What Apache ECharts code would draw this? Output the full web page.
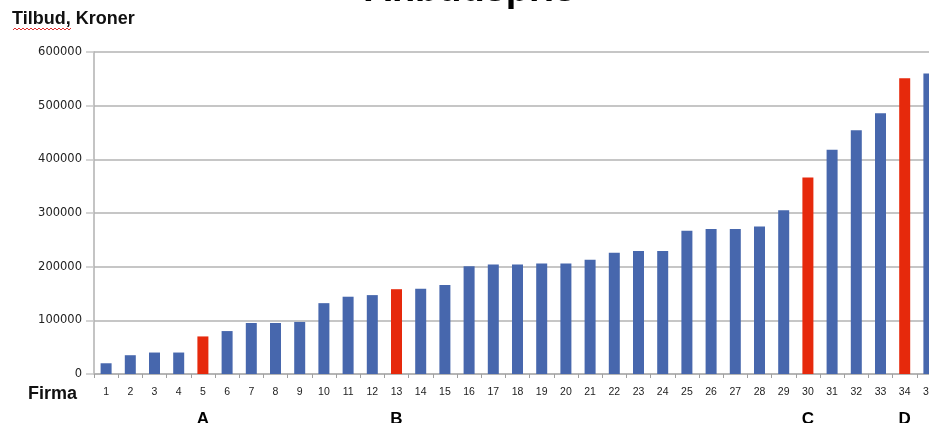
<!DOCTYPE html>
<html>
<head>
<meta charset="utf-8">
<script src="https://cdn.jsdelivr.net/npm/echarts@6/dist/echarts.min.js"></script>
<style>
  html, body { margin: 0; padding: 0; background: #fff; }
  #chart { width: 929px; height: 423px; }
</style>
</head>
<body>
<div id="chart"></div>
<script>
// Firms 1..35, sorted by bid
const firms = ['1','2','3','4','5','6','7','8','9','10','11','12','13','14','15','16','17','18',
  '19','20','21','22','23','24','25','26','27','28','29','30','31','32','33','34','35'];
// Bid per firm, kroner
const bids = [20000, 35000, 40000, 40000, 70000, 80000, 95000, 95000, 97000, 132000,
  144000, 147000, 158000, 159000, 166000, 201000, 204000, 204000, 206000, 206000,
  213000, 226000, 229000, 229000, 267000, 270000, 270000, 275000, 305000, 366000,
  418000, 454000, 486000, 551000, 560000];
// Highlighted firms and their letter tags
const markedFirms = ['5', '13', '30', '34'];
const markLetters = ['A', 'B', 'C', 'D'];
const yTicks = [0, 100000, 200000, 300000, 400000, 500000, 600000];

const BLUE = '#4767ad';
const RED = '#e6290c';
const GRID = '#c6c6c6';

const letterRow = firms.map(f => {
  const i = markedFirms.indexOf(f);
  return i >= 0 ? markLetters[i] : '';
});

const barData = bids.map((v, i) => ({
  value: v,
  itemStyle: { color: markedFirms.includes(firms[i]) ? RED : BLUE }
}));

// spell-check style wavy underline under "Tilbud"
const wave = [];
for (let x = 13, k = 0; x <= 72; x += 2, k++) wave.push([x, k % 2 ? 28 : 30]);

const chart = echarts.init(document.getElementById('chart'), null, { renderer: 'canvas' });
chart.setOption({
  animation: false,
  grid: {
    left: 94, top: 52, width: 847, height: 322,
    containLabel: false, outerBoundsMode: 'none'
  },
  xAxis: [
    {
      type: 'category',
      data: firms,
      position: 'bottom',
      axisLine: { show: true, lineStyle: { color: '#b0b0b0', width: 1.5 } },
      axisTick: { show: true, alignWithLabel: false, length: 4, lineStyle: { color: '#a0a0a0' } },
      axisLabel: {
        margin: 13, interval: 0, color: '#222',
        fontFamily: 'Liberation Sans, Arial, sans-serif', fontSize: 10.5
      }
    },
    {
      type: 'category',
      data: letterRow,
      position: 'bottom',
      offset: 0,
      axisLine: { show: false },
      axisTick: { show: false },
      axisLabel: {
        margin: 37, interval: 0, color: '#000', fontWeight: 'bold',
        fontFamily: 'Liberation Sans, Arial, sans-serif', fontSize: 17
      }
    }
  ],
  yAxis: {
    type: 'value',
    min: yTicks[0],
    max: yTicks[yTicks.length - 1],
    interval: yTicks[1] - yTicks[0],
    axisLine: { show: true, lineStyle: { color: '#b0b0b0', width: 1.5 } },
    axisTick: { show: true, length: 8, lineStyle: { color: GRID, width: 1.5 } },
    splitLine: { show: true, lineStyle: { color: GRID, width: 1.8 } },
    axisLabel: {
      margin: 12, color: '#222',
      formatter: v => String(v),
      fontFamily: 'DejaVu Sans, Verdana, sans-serif', fontSize: 11.5
    }
  },
  series: [{
    type: 'bar',
    data: barData,
    barWidth: 11,
    xAxisIndex: 0
  }],
  graphic: [
    {
      type: 'text',
      style: {
        x: 470, y: 10, text: 'Anbudspris', align: 'center', verticalAlign: 'bottom',
        font: 'bold 38px "Liberation Sans", Arial, sans-serif', fill: '#000'
      }
    },
    {
      type: 'text',
      style: {
        x: 12, y: 19, text: 'Tilbud, Kroner', align: 'left', verticalAlign: 'middle',
        font: 'bold 18px "Liberation Sans", Arial, sans-serif', fill: '#111'
      }
    },
    {
      type: 'polyline',
      shape: { points: wave },
      style: { stroke: '#e03030', lineWidth: 1, fill: null }
    },
    {
      type: 'text',
      style: {
        x: 77, y: 394, text: 'Firma', align: 'right', verticalAlign: 'middle',
        font: 'bold 18px "Liberation Sans", Arial, sans-serif', fill: '#111'
      }
    }
  ]
});
</script>
</body>
</html>
